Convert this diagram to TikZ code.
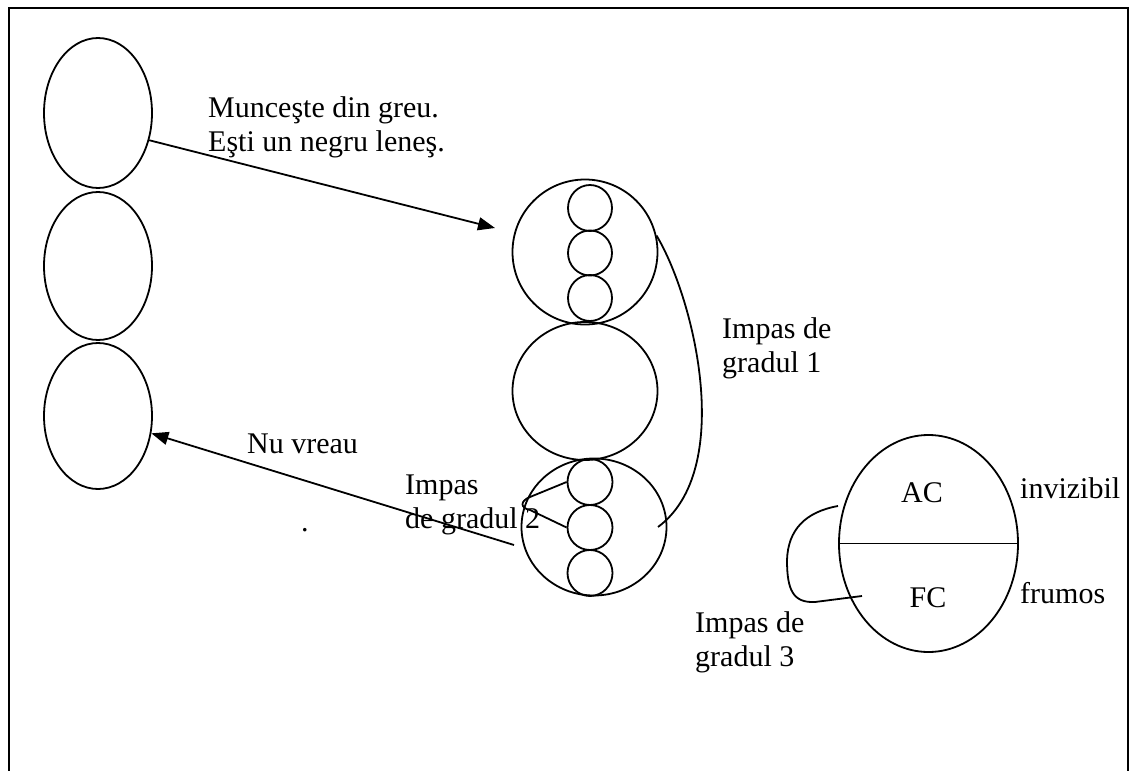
\documentclass[tikz,border=0pt]{standalone}
\usepackage{fontspec}
\setmainfont{Liberation Serif}
\usetikzlibrary{shapes.geometric,arrows.meta}
\begin{document}
\begin{tikzpicture}[x=1pt,y=-1pt,
  ln/.style={line width=1.8pt},
  oval/.style={ellipse, draw, ln, inner sep=0pt},
  lbl/.style={inner sep=0pt, font=\fontsize{30}{34}\selectfont, align=left},
  arr/.style={ln, -{Triangle[length=17pt,width=13pt]}}]
\useasboundingbox (0,0) rectangle (1136,771);
\fill[white] (0,0) rectangle (1136,771);
% page frame, open at the bottom
\draw[ln] (9,771) -- (9,8) -- (1128,8) -- (1128,771);

% left column of three ovals
\node[oval, minimum width=108pt, minimum height=150pt] (e1) at (98,113) {};
\node[oval, minimum width=108pt, minimum height=148pt] (e2) at (98,266) {};
\node[oval, minimum width=108pt, minimum height=146pt] (e3) at (98,416) {};

% middle column: three large circles
\node[oval, minimum width=145pt, minimum height=145pt] (c1) at (585,252) {};
\node[oval, minimum width=145pt, minimum height=138pt] (c2) at (585,391) {};
\node[oval, minimum width=145pt, minimum height=137pt] (c3) at (594,527) {};

% small circles inside the top circle
\node[oval, minimum width=44pt, minimum height=46pt] (s1) at (590,208) {};
\node[oval, minimum width=44pt, minimum height=45pt] (s2) at (590,253) {};
\node[oval, minimum width=44pt, minimum height=46pt] (s3) at (590,298) {};

% small circles inside the bottom circle
\node[oval, minimum width=45pt, minimum height=46pt] (s4) at (590,482) {};
\node[oval, minimum width=45pt, minimum height=45pt] (s5) at (590,527.5) {};
\node[oval, minimum width=45pt, minimum height=46pt] (s6) at (590,573) {};

% right oval split in two
\node[oval, minimum width=179pt, minimum height=217pt] (r) at (928.5,543.5) {};
\draw[ln] (r.west) -- (r.east);
\node[lbl] (ac) at (922,493) {AC};
\node[lbl] (fc) at (928,598) {FC};
\node[lbl, anchor=base west] (inv) at (1020,498) {invizibil};
\node[lbl, anchor=base west] (fru) at (1020,603) {frumos};

% arrows between the columns
\coordinate (t1) at (495,228);
\draw[arr] (e1.-28) -- (t1);
\coordinate (t2) at (514,545);
\draw[arr] (t2) -- (e3.-18);

% labels of the arrows
\node[lbl, anchor=north west] (m1) at (208,96) {Munceşte din greu.\\Eşti un negru leneş.};
\node[lbl, anchor=base west] (nv) at (247,453) {Nu vreau};
\node[lbl, anchor=base west] (dot) at (301,531) {.};

% impas de gradul 1: bracket from top circle to bottom circle
\coordinate (g1) at (658,527);
\draw[ln] (c1.13) .. controls (695,300) and (735,470) .. (g1);
\node[lbl, anchor=north west] (i1) at (722,317) {Impas de\\gradul 1};

% impas de gradul 2: hook joining two small circles
\draw[ln] (s4.west) -- (530,497) .. controls (520,501) and (520,508) .. (530,510) -- (s5.west);
\node[lbl, anchor=north west] (i2) at (405,475) {Impas\\de gradul 2};

% impas de gradul 3: loop from AC to FC
\coordinate (g3a) at (838,506);
\coordinate (g3b) at (862,596);
\draw[ln] (g3a) .. controls (805,512) and (788,530) .. (787,560)
  .. controls (787,590) and (793,603) .. (815,602) -- (g3b);
\node[lbl, anchor=north west] (i3) at (695,611) {Impas de\\gradul 3};
\end{tikzpicture}
\end{document}
